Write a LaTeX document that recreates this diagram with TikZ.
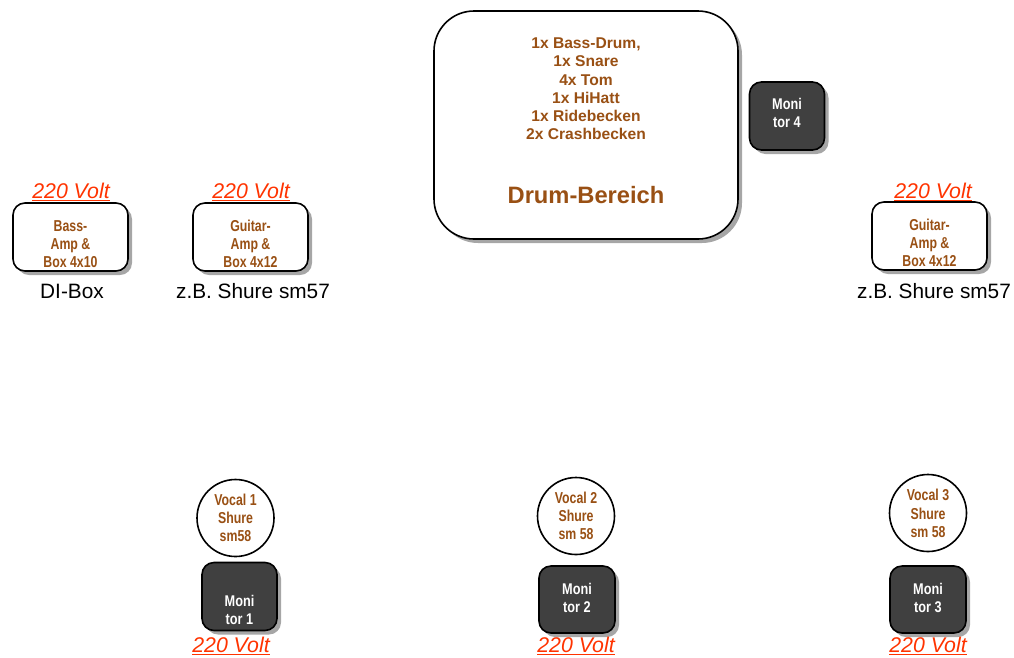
\documentclass[tikz,border=0pt]{standalone}
\usepackage{fontspec}
\setmainfont{Liberation Sans}
\newfontfamily\narrowfont{Liberation Sans}[FakeStretch=0.78]
\newfontfamily\monfont{Liberation Sans}[FakeStretch=0.82]
\usetikzlibrary{shadows}
\definecolor{brn}{RGB}{153,80,20}
\definecolor{voltred}{RGB}{255,51,0}
\definecolor{mongray}{RGB}{64,64,64}
\tikzset{
  shad/.style={drop shadow={shadow xshift=4pt, shadow yshift=-4pt, fill=black!50, opacity=0.7}},
  ampbox/.style={draw=black, line width=1.6pt, fill=white, rounded corners=12pt, minimum width=115pt, minimum height=68pt, inner sep=0pt, shad},
  drumbox/.style={draw=black, line width=1.6pt, fill=white, rounded corners=40pt, minimum width=304pt, minimum height=228pt, inner sep=0pt, shad},
  monbox/.style={draw=black, line width=1.6pt, fill=mongray, rounded corners=12pt, minimum width=75pt, minimum height=68pt, inner sep=0pt, shad},
  vocal/.style={draw=black, line width=1.6pt, fill=white, circle, minimum size=77pt, inner sep=0pt},
  smalltxt/.style={text=brn, align=center, inner sep=0pt, font=\narrowfont\bfseries\fontsize{15.8}{18.3}\selectfont},
  montxt/.style={text=white, align=center, inner sep=0pt, font=\monfont\bfseries\fontsize{15.5}{18.8}\selectfont},
  drumtxt/.style={text=brn, align=center, inner sep=0pt, font=\bfseries\fontsize{15.6}{18.2}\selectfont},
  volt/.style={text=voltred, inner sep=0pt, font=\itshape\fontsize{21.3}{23}\selectfont},
  plain/.style={text=black, inner sep=0pt, font=\fontsize{20.8}{22}\selectfont}
}
\begin{document}
\begin{tikzpicture}[x=1pt,y=-1pt]
\useasboundingbox (0,0) rectangle (1014,657);

% Drum area
\node[drumbox] (drum) at (586,125) {};
\node[drumtxt] (drumlist) at (586,89) {1x Bass-Drum,\\1x Snare\\4x Tom\\1x HiHatt\\1x Ridebecken\\2x Crashbecken};
\node[text=brn, inner sep=0pt, font=\bfseries\fontsize{23.7}{26}\selectfont] (drumtitle) at (586,195) {Drum-Bereich};

% Monitor 4
\node[monbox] (mon4) at (787,116) {};
\node[montxt] (mon4t) at (787,113) {Moni\\tor 4};

% Bass amp
\node[ampbox] (bass) at (70.5,237) {};
\node[smalltxt] (basst) at (70.5,244) {Bass-\\Amp \&\\Box 4x10};
\node[volt] (voltbass) at (71,192) {\underline{220 Volt}};
\node[plain] (dibox) at (72,291) {DI-Box};

% Guitar amp 1
\node[ampbox] (gtr1) at (250.5,237) {};
\node[smalltxt] (gtr1t) at (250.5,244) {Guitar-\\Amp \&\\Box 4x12};
\node[volt] (voltgtr1) at (251,192) {\underline{220 Volt}};
\node[plain] (mic1) at (253,291) {z.B. Shure sm57};

% Guitar amp 2
\node[ampbox] (gtr2) at (929.5,236) {};
\node[smalltxt] (gtr2t) at (929.5,243) {Guitar-\\Amp \&\\Box 4x12};
\node[volt] (voltgtr2) at (933,192) {\underline{220 Volt}};
\node[plain] (mic2) at (934,291) {z.B. Shure sm57};

% Vocal 1 + Monitor 1
\node[vocal] (voc1) at (235.5,518) {};
\node[smalltxt] (voc1t) at (235.5,518) {Vocal 1\\Shure\\sm58};
\node[monbox] (mon1) at (239.5,596.5) {};
\node[montxt] (mon1t) at (239.5,610) {Moni\\tor 1};
\node[volt] (voltm1) at (231,646) {\underline{220 Volt}};

% Vocal 2 + Monitor 2
\node[vocal] (voc2) at (576,516) {};
\node[smalltxt] (voc2t) at (576,516) {Vocal 2\\Shure\\sm 58};
\node[monbox, minimum width=76pt, minimum height=67pt] (mon2) at (577,599.5) {};
\node[montxt] (mon2t) at (577,598) {Moni\\tor 2};
\node[volt] (voltm2) at (576,646) {\underline{220 Volt}};

% Vocal 3 + Monitor 3
\node[vocal] (voc3) at (928,513) {};
\node[smalltxt] (voc3t) at (928,513.5) {Vocal 3\\Shure\\sm 58};
\node[monbox, minimum width=76pt, minimum height=67pt] (mon3) at (928,599.5) {};
\node[montxt] (mon3t) at (928,598) {Moni\\tor 3};
\node[volt] (voltm3) at (928,646) {\underline{220 Volt}};
\end{tikzpicture}
\end{document}
